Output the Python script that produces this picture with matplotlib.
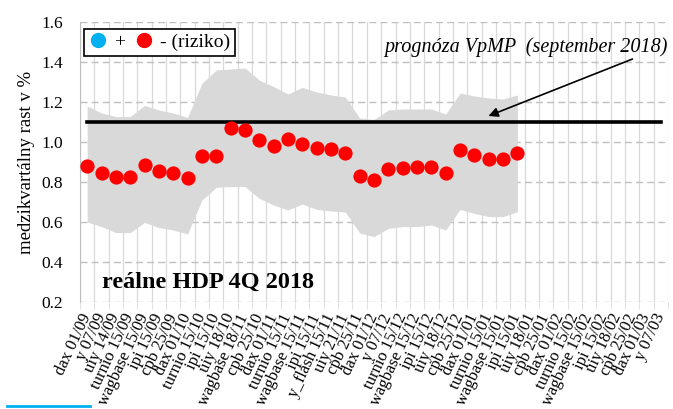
import matplotlib
matplotlib.use("Agg")
import matplotlib.pyplot as plt
from matplotlib.lines import Line2D
import numpy as np

categories = ["dax 01/09", "y 07/09", "uiy 14/09", "turnio 15/09", "wagbase 15/09", "ipi 15/09",
              "cpb 25/09", "dax 01/10", "turnio 15/10", "ipi 15/10", "uiy 18/10", "wagbase 18/11",
              "cpb 25/10", "dax 01/11", "turnio 15/11", "wagbase 15/11", "ipi 15/11", "y_flash 15/11",
              "uiy 21/11", "cpb 25/11", "dax 01/12", "y 07/12", "turnio 15/12", "wagbase 15/12",
              "ipi 15/12", "uiy 18/12", "cpb 25/12", "dax 01/01", "turnio 15/01", "wagbase 15/01",
              "ipi 15/01", "uiy 18/01", "cpb 25/01", "dax 01/02", "turnio 15/02", "wagbase 15/02",
              "ipi 15/02", "uiy 18/02", "cpb 25/02", "dax 01/03", "y 07/03"]

nowcast = [0.88, 0.846, 0.823, 0.823, 0.883, 0.857, 0.843, 0.818, 0.93, 0.93,
           1.068, 1.06, 1.01, 0.98, 1.015, 0.988, 0.968, 0.965, 0.943, 0.83,
           0.81, 0.865, 0.868, 0.873, 0.873, 0.843, 0.96, 0.935, 0.915, 0.915, 0.943]

upper = [1.18, 1.145, 1.127, 1.127, 1.183, 1.16, 1.145, 1.123, 1.293, 1.36,
         1.365, 1.37, 1.31, 1.277, 1.24, 1.273, 1.25, 1.235, 1.225, 1.12,
         1.113, 1.16, 1.165, 1.165, 1.165, 1.14, 1.245, 1.23, 1.22, 1.215, 1.235]

lower = [0.60, 0.577, 0.547, 0.547, 0.598, 0.572, 0.56, 0.54, 0.71, 0.773,
         0.777, 0.777, 0.718, 0.685, 0.66, 0.69, 0.663, 0.655, 0.65, 0.545,
         0.527, 0.568, 0.577, 0.577, 0.585, 0.56, 0.663, 0.643, 0.627, 0.627, 0.652]

forecast = 1.1
yticks = [0.2, 0.4, 0.6, 0.8, 1.0, 1.2, 1.4, 1.6]

plt.rcParams['font.family'] = ['Liberation Serif', 'DejaVu Serif']

fig = plt.figure(figsize=(6.73, 4.09), dpi=100)
ax = fig.add_axes([80/673, 1-302/409, 588/673, 280/409])

n = len(categories)
xs = np.arange(n)
xr = np.arange(len(nowcast))

ax.fill_between(xr, lower, upper, color='#d9d9d9', lw=0, zorder=1)
ax.plot([0, n-1], [forecast, forecast], color='black', lw=2.6, zorder=3)
ax.scatter(xr, nowcast, s=105, color='#ff0000', zorder=4, linewidths=0)

ax.set_xlim(-0.5, n-0.5)
ax.set_ylim(0.2, 1.6)
ax.set_yticks(yticks)
ax.set_yticklabels([f"{v:.1f}" for v in yticks], fontsize=12.5)

# vertical grid at category boundaries
for b in np.arange(-0.5, n+0.5, 1.0):
    ax.axvline(b, color='#d9d9d9', lw=0.9, zorder=0)
for v in yticks:
    ax.axhline(v, color='#bfbfbf', lw=1.0, ls=(0, (5, 3)), zorder=0.5)

ax.set_xticks(xs)
ax.set_xticklabels(categories, rotation=65, ha='right', va='center',
                   rotation_mode='anchor', fontsize=12)
ax.tick_params(axis='x', length=0, pad=9)
ax.set_xticks(np.arange(-0.5, n+0.5, 1.0), minor=True)
ax.tick_params(axis='x', which='minor', length=5, color='#d9d9d9')
ax.tick_params(axis='y', length=0, pad=12)

for s in ['top', 'right', 'bottom']:
    ax.spines[s].set_visible(False)
ax.spines['left'].set_color('#bfbfbf')

ax.set_ylabel("medzikvartálny rast v %", fontsize=13.5, labelpad=5)

# legend
h1 = Line2D([], [], marker='o', ls='none', color='#00b0f0', markersize=10)
h2 = Line2D([], [], marker='o', ls='none', color='#ff0000', markersize=10)
leg = ax.legend([h1, h2], ["+", "- (riziko)"], ncol=2, loc='upper left',
                bbox_to_anchor=(0.0, 0.99), frameon=True, fancybox=False,
                handletextpad=0.3, columnspacing=0.5, handlelength=1.0,
                borderpad=0.25, fontsize=14, borderaxespad=0.2)
leg.get_frame().set_edgecolor('black')
leg.get_frame().set_linewidth(1.2)
leg.get_frame().set_alpha(1)

ax.text(30.6, 1.475, "prognóza VpMP  (september 2018)", style='italic',
        fontsize=14.5, ha='center', va='center', zorder=5)
ax.annotate("", xy=(27.8, 1.125), xytext=(38.2, 1.42),
            arrowprops=dict(arrowstyle='-|>', color='black', lw=1.2,
                            mutation_scale=14), zorder=5)

ax.text(1.0, 0.3, "reálne HDP 4Q 2018", fontsize=17.5, fontweight='bold',
        ha='left', va='center', zorder=5)

fig.add_artist(Line2D([7/673, 90/673], [1-406/409, 1-406/409], color='#00b0f0', lw=2))

fig.savefig("out.png", dpi=100)
